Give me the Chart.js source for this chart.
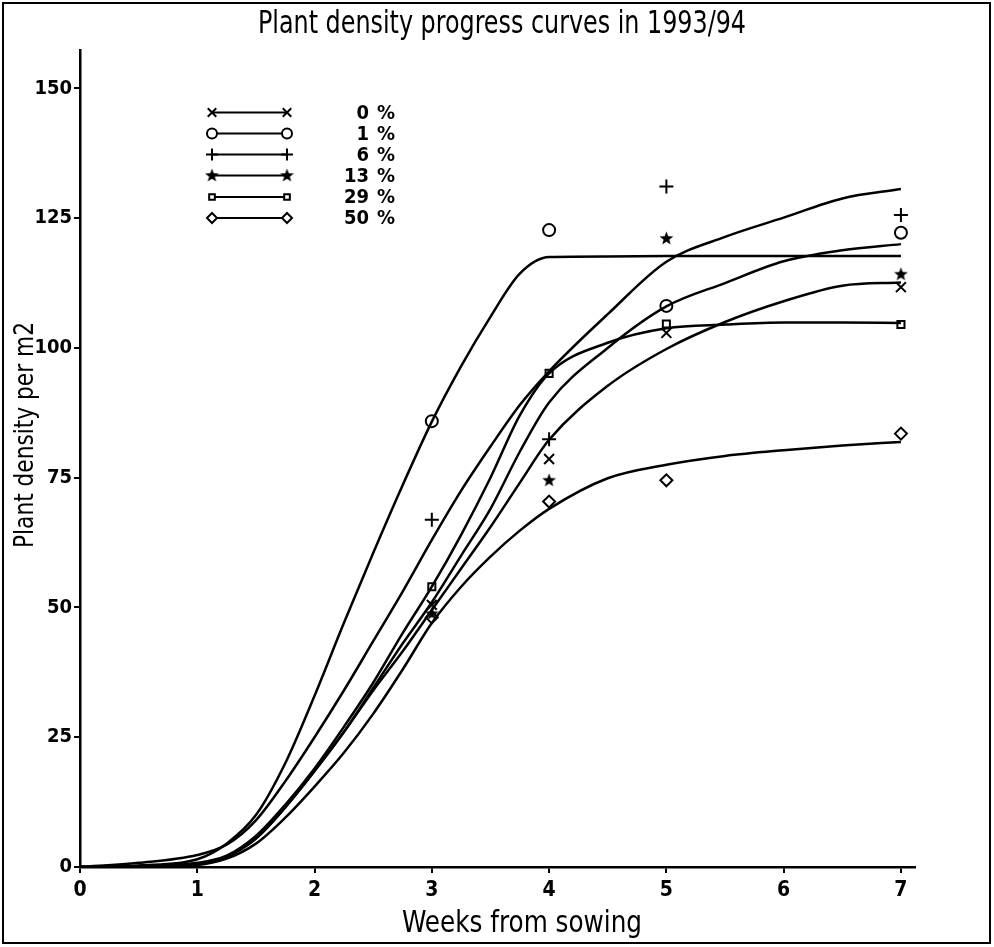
<!DOCTYPE html>
<html>
<head>
<meta charset="utf-8">
<script src="https://cdn.jsdelivr.net/npm/chart.js@4.4.1/dist/chart.umd.min.js"></script>
<style>
  html, body { margin: 0; padding: 0; background: #fff; }
  #wrap { width: 994px; height: 947px; }
</style>
</head>
<body>
<div id="wrap"><canvas id="myChart" width="994" height="947"></canvas></div>
<script>
// fitted curves
var curveWeeks = [0, 0.5, 1, 1.25, 1.5, 1.75, 2, 2.25, 2.5, 2.75, 3, 3.25, 3.5, 3.75, 4, 4.5, 5, 5.5, 6, 6.5, 7];
var fit0  = [0, 0.1, 0.5, 2, 5.5, 11.5, 18.5, 26, 34, 41.5, 49.5, 57.5, 65.5, 74, 82.3, 92.7, 99.8, 105, 109, 112, 112.6];
var fit1  = [0, 0.3, 1.5, 4.5, 10, 20, 33, 47, 60.5, 73.5, 85.8, 96.5, 106, 114.3, 117.5, 117.6, 117.7, 117.7, 117.7, 117.7, 117.7];
var fit6  = [0, 0.8, 2.3, 4.3, 9, 16.5, 25, 34, 43.5, 53, 63, 72.5, 81, 89, 95.5, 106.5, 116.6, 121.4, 125.1, 128.8, 130.6];
var fit13 = [0, 0.1, 0.5, 2, 5.5, 11.5, 18.5, 26, 34.5, 43, 51, 60, 69, 80, 89.5, 100, 108, 112.5, 116.7, 118.8, 120];
var fit29 = [0, 0.2, 0.8, 2.2, 6, 12, 19, 27, 35.5, 45, 54, 64, 75, 87, 95.1, 101, 103.8, 104.5, 104.9, 104.9, 104.8];
var fit50 = [0, 0.1, 0.4, 1.6, 4.5, 9.5, 15.5, 22, 29.5, 38, 47, 54, 59.8, 64.8, 69, 74.9, 77.5, 79.2, 80.3, 81.2, 81.9];

// observed densities
var obsWeeks = [3, 4, 5, 7];
var obs0  = [50.5, 78.6, 102.9, 111.7];
var obs1  = [85.9, 122.7, 108.1, 122.2];
var obs6  = [66.9, 82.4, 131.1, 125.6];
var obs13 = [48.8, 74.5, 121.1, 114.2];
var obs29 = [54, 95.1, 104.6, 104.5];
var obs50 = [48.1, 70.4, 74.5, 83.5];

var levels = ['0', '1', '6', '13', '29', '50'];
var xTicks = [0, 1, 2, 3, 4, 5, 6, 7];
var yTicks = [0, 25, 50, 75, 100, 125, 150];

var FONT = "'DejaVu Sans Condensed', 'Liberation Sans Narrow', 'DejaVu Sans', sans-serif";

// filled star marker
var star = document.createElement('canvas');
star.width = 15; star.height = 15;
(function () {
  var c = star.getContext('2d');
  c.fillStyle = '#000';
  c.beginPath();
  for (var i = 0; i < 10; i++) {
    var r = i % 2 == 0 ? 7.2 : 3.0;
    var a = -Math.PI / 2 + i * Math.PI / 5;
    var px = 7.5 + r * Math.cos(a), py = 7.8 + r * Math.sin(a);
    if (i == 0) c.moveTo(px, py); else c.lineTo(px, py);
  }
  c.closePath();
  c.fill();
})();

var marks = [
  { pointStyle: 'crossRot', radius: 7, fill: '#000' },
  { pointStyle: 'circle', radius: 6, fill: '#fff' },
  { pointStyle: 'cross', radius: 7, fill: '#000' },
  { pointStyle: star, radius: 7, fill: '#000' },
  { pointStyle: 'rect', radius: 5, fill: '#fff' },
  { pointStyle: 'rectRot', radius: 6, fill: '#fff' }
];

function pts(xs, ys) {
  return xs.map(function (x, i) { return { x: x, y: ys[i] }; });
}

var fits = [fit0, fit1, fit6, fit13, fit29, fit50];
var obs = [obs0, obs1, obs6, obs13, obs29, obs50];
var datasets = [];
fits.forEach(function (f, i) {
  datasets.push({
    label: levels[i] + ' %',
    data: pts(curveWeeks, f),
    borderColor: '#000',
    borderWidth: 2.5,
    pointRadius: 0,
    fill: false,
    cubicInterpolationMode: 'monotone'
  });
});
obs.forEach(function (o, i) {
  datasets.push({
    label: levels[i] + ' % obs',
    data: pts(obsWeeks, o),
    showLine: false,
    pointStyle: marks[i].pointStyle,
    pointRadius: marks[i].radius,
    pointBorderWidth: 2,
    pointBorderColor: '#000',
    pointBackgroundColor: marks[i].fill
  });
});

// text squeezed to a given width, like the plotter font
function squeezed(ctx, txt, x, y, size, weight, width, rot, align) {
  ctx.save();
  ctx.font = weight + ' ' + size + 'px ' + FONT;
  var w = ctx.measureText(txt).width;
  ctx.translate(x, y);
  if (rot) ctx.rotate(rot);
  ctx.scale(width / w, 1);
  ctx.fillStyle = '#000';
  ctx.textAlign = align || 'center';
  ctx.textBaseline = 'alphabetic';
  ctx.fillText(txt, 0, 0);
  ctx.restore();
}

var titles = {
  id: 'titles',
  afterDraw: function (chart) {
    var ctx = chart.ctx;
    squeezed(ctx, 'Plant density progress curves in 1993/94', 502, 33, 32, 'normal', 488);
    squeezed(ctx, 'Weeks from sowing', 522, 932, 30, 'normal', 240);
    squeezed(ctx, 'Plant density per m2', 33, 435, 27, 'normal', 226, -Math.PI / 2);
  }
};

var rowLegend = {
  id: 'rowLegend',
  afterDraw: function (chart) {
    var ctx = chart.ctx;
    var rows = [112.5, 133.5, 154.5, 175.5, 197, 218];
    ctx.save();
    rows.forEach(function (y, i) {
      ctx.strokeStyle = '#000';
      ctx.lineWidth = 2;
      ctx.beginPath();
      ctx.moveTo(212, y);
      ctx.lineTo(287, y);
      ctx.stroke();
      [212, 287].forEach(function (x) {
        ctx.strokeStyle = '#000';
        ctx.fillStyle = marks[i].fill;
        ctx.lineWidth = 2;
        Chart.helpers.drawPoint(ctx, {
          pointStyle: marks[i].pointStyle,
          radius: marks[i].radius - 1,
          borderWidth: 2,
          rotation: 0
        }, x, y);
      });
      ctx.fillStyle = '#000';
      ctx.font = 'bold 20px ' + FONT;
      ctx.textBaseline = 'middle';
      ctx.textAlign = 'right';
      ctx.fillText(levels[i], 369, y + 1);
      ctx.textAlign = 'left';
      ctx.fillText('%', 377, y + 1);
    });
    ctx.restore();
  }
};

var frame = {
  id: 'frame',
  afterDraw: function (chart) {
    var ctx = chart.ctx;
    ctx.save();
    ctx.strokeStyle = '#000';
    ctx.lineWidth = 2;
    ctx.strokeRect(3, 3, 987, 940);
    ctx.restore();
  }
};

var ctx = document.getElementById('myChart').getContext('2d');
var chart = new Chart(ctx, {
  type: 'line',
  data: { datasets: datasets },
  plugins: [titles, rowLegend, frame],
  options: {
    responsive: false,
    animation: false,
    devicePixelRatio: 1,
    layout: { padding: { top: 50, right: 79, bottom: 0, left: 0 } },
    plugins: {
      legend: { display: false },
      tooltip: { enabled: false },
      title: { display: false }
    },
    scales: {
      x: {
        type: 'linear',
        min: 0,
        max: 7.12,
        afterBuildTicks: function (scale) {
          scale.ticks = xTicks.map(function (v) { return { value: v }; });
        },
        afterFit: function (scale) { scale.height = 80; },
        ticks: {
          color: '#000',
          padding: 5,
          font: { family: FONT, size: 21, weight: 'bold' }
        },
        grid: { drawOnChartArea: false, drawTicks: true, tickLength: 6, color: '#000', lineWidth: 2 },
        border: { display: true, color: '#000', width: 2.5 }
      },
      y: {
        min: 0,
        max: 157.4,
        afterBuildTicks: function (scale) {
          scale.ticks = yTicks.map(function (v) { return { value: v }; });
        },
        afterFit: function (scale) { scale.width = 80; },
        ticks: {
          color: '#000',
          padding: 2,
          font: { family: FONT, size: 20, weight: 'bold' }
        },
        grid: { drawOnChartArea: false, drawTicks: true, tickLength: 6, color: '#000', lineWidth: 2 },
        border: { display: true, color: '#000', width: 2.5 }
      }
    }
  }
});
</script>
</body>
</html>
